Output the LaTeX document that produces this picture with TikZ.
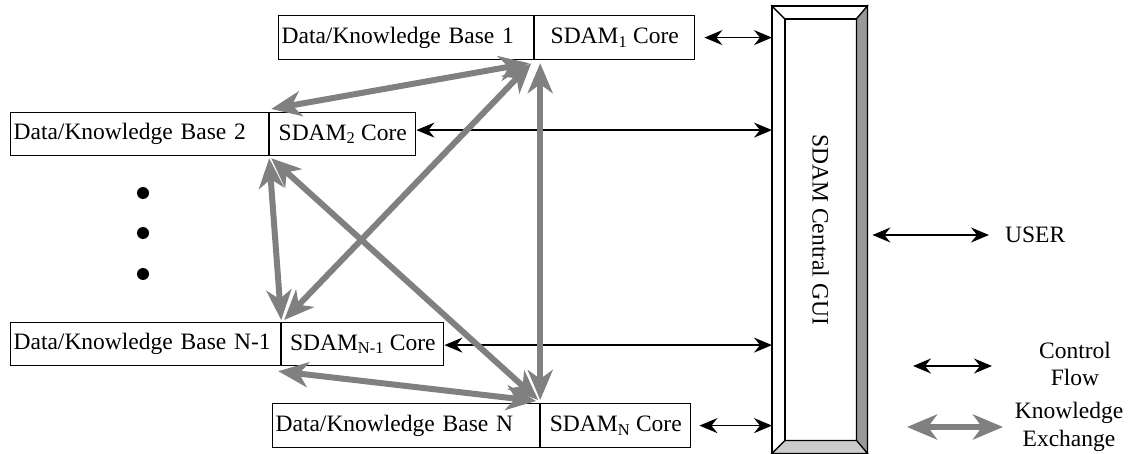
\documentclass[tikz,border=0pt]{standalone}
\usepackage{fontspec}
\setmainfont{Liberation Serif}
\usetikzlibrary{arrows.meta,calc}
\definecolor{kgray}{HTML}{808080}
\definecolor{bevdark}{HTML}{999999}
\definecolor{bevlight}{HTML}{CCCCCC}
\tikzset{
  lbox/.style={draw, line width=1.2pt, minimum height=44pt, inner xsep=3pt, inner ysep=0pt, align=left, anchor=north west, font=\fontsize{23.5}{26}\selectfont},
  rbox/.style={draw, line width=1.2pt, minimum height=44pt, inner sep=0pt, anchor=north west, font=\fontsize{23.5}{26}\selectfont},
  lbl/.style={inner sep=0pt, align=center, font=\fontsize{23.5}{27.5}\selectfont},
  ctrl/.style={>={Stealth[length=18pt,width=15pt,inset=6pt]}, <->, line width=1.5pt, black},
  know/.style={>={Stealth[length=30pt,width=25pt,inset=9pt]}, <->, line width=6pt, kgray},
  bevel/.style={draw=black, line width=1.2pt, line join=miter},
}
\begin{document}
\begin{tikzpicture}[x=1pt,y=-1pt]
\useasboundingbox (0,0) rectangle (1131,454);
% boxes
\node[lbox, minimum width=255pt, text width=249pt] (k1) at (278,15) {Data/Knowledge Base 1};
\node[rbox, minimum width=160pt] (s1) at (k1.north east) {SDAM\textsubscript{1} Core};
\node[lbox, minimum width=258pt, minimum height=43pt, text width=252pt] (k2) at (10,112) {Data/Knowledge Base 2};
\node[rbox, minimum width=146pt, minimum height=43pt] (s2) at (k2.north east) {SDAM\textsubscript{2} Core};
\node[lbox, minimum width=270pt, minimum height=43pt, text width=264pt] (kN1) at (10,322) {Data/Knowledge Base N-1};
\node[rbox, minimum width=162pt, minimum height=43pt] (sN1) at (kN1.north east) {SDAM\textsubscript{N-1} Core};
\node[lbox, minimum width=267pt, text width=261pt] (kN) at (272,403) {Data/Knowledge Base N};
\node[rbox, minimum width=150pt] (sN) at (kN.north east) {SDAM\textsubscript{N} Core};
% dots
\fill (143,193) circle[radius=6pt];
\fill (143,233) circle[radius=6pt];
\fill (143,274) circle[radius=6pt];
% GUI bar
\node[inner sep=0pt, minimum width=95pt, minimum height=447pt, anchor=north west] (gui) at (772,6) {};
\coordinate (gi1) at ([shift={(13,13)}]gui.north west);
\coordinate (gi2) at ([shift={(-11,-13)}]gui.south east);
\fill[white] (gui.north west) rectangle (gui.south east);
\filldraw[bevel, fill=white] (gui.north west) -- (gui.south west) -- (gi1 |- gi2) -- (gi1) -- cycle;
\filldraw[bevel, fill=white] (gui.north west) -- (gui.north east) -- (gi2 |- gi1) -- (gi1) -- cycle;
\filldraw[bevel, fill=bevdark] (gui.north east) -- (gui.south east) -- (gi2) -- (gi2 |- gi1) -- cycle;
\filldraw[bevel, fill=bevlight] (gui.south west) -- (gui.south east) -- (gi2) -- (gi1 |- gi2) -- cycle;
\draw[line width=1.2pt] (gi1) rectangle (gi2);
\draw[line width=1.2pt] (gui.north west) rectangle (gui.south east);
\node[lbl, rotate=-90] (guitext) at ($(gi1)!0.5!(gi2)$) {SDAM Central GUI};
% control arrows
\draw[ctrl] ([xshift=9pt]s1.east) -- (s1.east -| gui.west);
\draw[ctrl] ([yshift=4pt]s2.east) -- ([yshift=4pt]s2.east -| gui.west);
\draw[ctrl] ([yshift=-1pt]sN1.east) -- ([yshift=-1pt]sN1.east -| gui.west);
\draw[ctrl] ([xshift=8pt]sN.east) -- (sN.east -| gui.west);
% user
\node[lbl, anchor=west] (user) at (1005,235) {USER};
\draw[ctrl] (user.west -| gui.east) ++(5,0) coordinate (ua) -- ([xshift=-16pt]user.west);
% knowledge arrows
\draw[know] ([shift={(-5,3)}]s1.south west) -- ([shift={(2,-3)}]s2.north west);
\draw[know] ([shift={(-3,3)}]s1.south west) -- ([shift={(3,-2)}]sN1.north west);
\draw[know] ([shift={(6,3)}]s1.south west) -- ([shift={(0,-3)}]sN.north west);
\draw[know] ([shift={(0,2)}]s2.south west) -- ([shift={(0,-2)}]sN1.north west);
\draw[know] ([shift={(2,2)}]s2.south west) -- ([shift={(-2,-3)}]sN.north west);
\draw[know] ([shift={(-3,5)}]sN1.south west) -- ([shift={(-4,-2)}]sN.north west);
% legend
\coordinate (c1) at (913,366);
\coordinate (c2) at (992,366);
\draw[ctrl] (c1) -- (c2);
\node[lbl] (ctext) at (1075,364) {Control\\Flow};
\coordinate (g1) at (907,427);
\coordinate (g2) at (1003,427);
\draw[know] (g1) -- (g2);
\node[lbl] (ktext) at (1069,427) {Knowledge\\Exchange};
\end{tikzpicture}
\end{document}
